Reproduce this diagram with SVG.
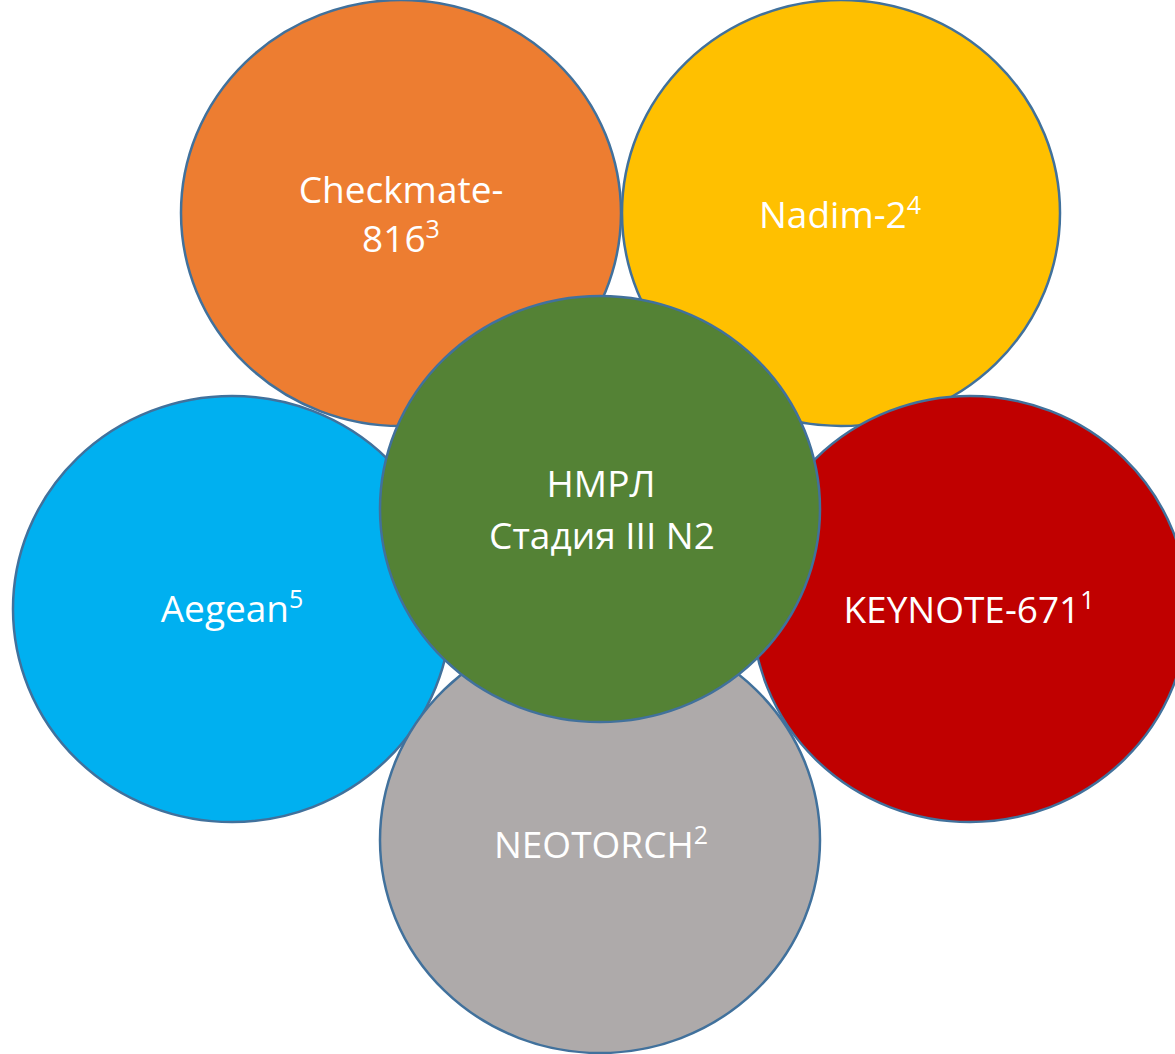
<svg xmlns="http://www.w3.org/2000/svg" width="1175" height="1054" viewBox="0 0 1175 1054">
<style>
.n{stroke:#41719C;stroke-width:2.5}
.t{font-family:"Open Sans","Liberation Sans",sans-serif;font-size:37px;fill:#FFFFFF;text-anchor:middle}
.s{font-size:25px}
</style>
<rect width="1175" height="1054" fill="#FFFFFF"/>
<g id="checkmate">
<ellipse class="n" cx="401" cy="213" rx="220" ry="213" fill="#ED7D31"/>
<text class="t" x="401" y="203">Checkmate-</text>
<text class="t" x="401" y="252">816<tspan class="s" dy="-14">3</tspan></text>
</g>
<g id="nadim">
<ellipse class="n" cx="841" cy="213" rx="219" ry="213" fill="#FFC000"/>
<text class="t" x="840" y="228">Nadim-2<tspan class="s" dy="-14">4</tspan></text>
</g>
<g id="aegean">
<ellipse class="n" cx="232" cy="609" rx="219" ry="213" fill="#00B0F0"/>
<text class="t" x="232" y="622">Aegean<tspan class="s" dy="-14">5</tspan></text>
</g>
<g id="keynote">
<ellipse class="n" cx="970" cy="609" rx="218" ry="213" fill="#C00000"/>
<text class="t" x="969" y="623">KEYNOTE-671<tspan class="s" dy="-14">1</tspan></text>
</g>
<g id="neotorch">
<ellipse class="n" cx="600" cy="840" rx="220" ry="213" fill="#AEAAAA"/>
<text class="t" x="601" y="858">NEOTORCH<tspan class="s" dy="-14">2</tspan></text>
</g>
<g id="center">
<ellipse class="n" cx="600" cy="509" rx="220" ry="213" fill="#548235"/>
<text class="t" x="601" y="497">НМРЛ</text>
<text class="t" x="602" y="549">Стадия III N2</text>
</g>
<g id="connectors"></g>
</svg>
